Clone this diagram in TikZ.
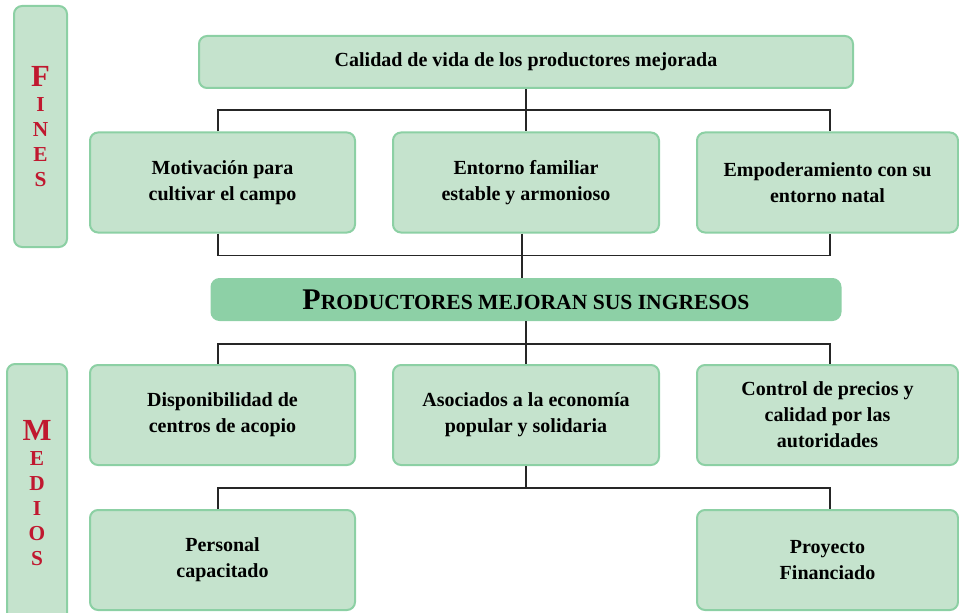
\documentclass[tikz,border=0pt]{standalone}
\usepackage{fontspec}
\setmainfont{Liberation Serif}
\definecolor{boxfill}{HTML}{C5E3CD}
\definecolor{boxline}{HTML}{8CD0A4}
\definecolor{barfill}{HTML}{8DD0A6}
\definecolor{sidered}{HTML}{C0182F}
\tikzset{
  box/.style={draw=boxline, fill=boxfill, line width=1.5pt, rounded corners=6pt,
    align=center, inner sep=0pt, font=\bfseries\fontsize{15}{19.5}\selectfont},
  cell/.style={box, minimum width=198.75pt, minimum height=75pt},
  side/.style={box, text=sidered, font=\bfseries\fontsize{16}{18.75}\selectfont},
  link/.style={draw=black!85, line width=0.9pt}
}

\begin{document}
\begin{tikzpicture}[x=0.75pt, y=-0.75pt]
\useasboundingbox (0,0) rectangle (959,613);
\clip (0,0) rectangle (959,613);

\node[side, minimum width=39.75pt, minimum height=180.75pt] (fines) at (40.5,126.5)
  {{\fontsize{23}{18.75}\selectfont F}\\I\\N\\E\\S};
\node[side, minimum width=45pt, minimum height=193.5pt] (medios) at (37,493)
  {{\fontsize{23}{18.75}\selectfont M}\\E\\D\\I\\O\\S};

\node[box, minimum width=490.5pt, minimum height=39pt] (fin) at (526,62) {Calidad de vida de los productores mejorada};
\node[cell] (f1) at (222.5,182.5) {Motivación para\\cultivar el campo};
\node[cell, minimum width=199.5pt] (f2) at (526,182.5) {Entorno familiar\\estable y armonioso};
\node[cell, minimum width=195.75pt] (f3) at (827.5,182.5) {Empoderamiento con su\\entorno natal};

\node[box, fill=barfill, draw=barfill, minimum width=471.75pt, minimum height=30.75pt] (prod) at (526,299.5)
  {{\fontsize{22.5}{22}\selectfont P}{\fontsize{16.2}{22}\selectfont RODUCTORES MEJORAN SUS INGRESOS}};

\node[cell] (m1) at (222.5,415) {Disponibilidad de\\centros de acopio};
\node[cell, minimum width=199.5pt] (m2) at (526,415) {Asociados a la economía\\popular y solidaria};
\node[cell, minimum width=195.75pt] (m3) at (827.5,415) {Control de precios y\\calidad por las\\autoridades};

\node[cell] (p1) at (222.5,560) {Personal\\capacitado};
\node[cell, minimum width=195.75pt] (p2) at (827.5,560) {Proyecto\\Financiado};

\draw[link] (fin.south) -- ++(0,21) coordinate (b1);
\draw[link] ([xshift=-3.4pt]f1.north) |- (b1) -| ([xshift=1.9pt]f3.north);
\draw[link] (b1) -- (f2.north);
\draw[link] ([xshift=-3.4pt]f1.south) -- ++(0,22) -| ([xshift=1.9pt]f3.south);
\draw[link] ([xshift=-3pt]f2.south) -- ([xshift=-3pt]f2.south |- prod.north);

\draw[link] (prod.south) -- ++(0,23) coordinate (b2);
\draw[link] ([xshift=-3.4pt]m1.north) |- (b2) -| ([xshift=1.9pt]m3.north);
\draw[link] (b2) -- (m2.north);

\draw[link] (m2.south) -- ++(0,22) coordinate (b3);
\draw[link] ([xshift=-3.4pt]p1.north) |- (b3) -| ([xshift=1.9pt]p2.north);
\end{tikzpicture}
\end{document}
